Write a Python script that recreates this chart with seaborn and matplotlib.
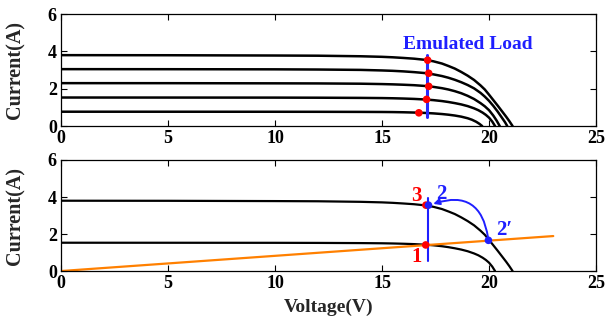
import matplotlib
matplotlib.use("Agg")
import matplotlib.pyplot as plt
import seaborn as sns
from matplotlib.patches import FancyArrowPatch

# I-V curves of the PV module at five irradiance levels (voltage in V, current in A)
v1 = [0, 5, 10, 12, 14, 15, 15.5, 16, 16.5, 17.0, 17.4, 17.8, 18.1, 18.4, 18.7, 19.0,
      19.3, 19.6, 19.8, 20.0, 20.2, 20.4, 20.6, 20.8, 20.95, 21.1]
i1 = [3.80, 3.795, 3.78, 3.77, 3.74, 3.71, 3.685, 3.65, 3.61, 3.55, 3.47, 3.35, 3.22, 3.08,
      2.90, 2.70, 2.47, 2.18, 1.96, 1.68, 1.39, 1.10, 0.80, 0.50, 0.26, 0.0]

v2 = [0, 5, 10, 12, 14, 15, 15.5, 16, 16.5, 17.0, 17.4, 17.8, 18.1, 18.4, 18.7, 19.0,
      19.3, 19.6, 19.8, 20.0, 20.2, 20.4, 20.6, 20.75, 20.85]
i2 = [3.05, 3.047, 3.04, 3.03, 3.01, 2.98, 2.96, 2.93, 2.89, 2.84, 2.77, 2.68, 2.59, 2.48,
      2.35, 2.20, 2.02, 1.78, 1.58, 1.35, 1.08, 0.78, 0.45, 0.20, 0.0]

v3 = [0, 5, 10, 12, 14, 15, 15.5, 16, 16.5, 17.0, 17.4, 17.8, 18.1, 18.4, 18.7, 19.0,
      19.3, 19.6, 19.8, 20.0, 20.2, 20.35, 20.5]
i3 = [2.30, 2.298, 2.29, 2.285, 2.27, 2.25, 2.235, 2.215, 2.19, 2.15, 2.10, 2.03, 1.96, 1.87,
      1.76, 1.62, 1.45, 1.23, 1.06, 0.85, 0.56, 0.30, 0.0]

v4 = [0, 5, 10, 12, 14, 15, 15.5, 16, 16.5, 17.0, 17.4, 17.8, 18.1, 18.4, 18.7, 19.0,
      19.3, 19.5, 19.7, 19.85, 20.0, 20.15, 20.28]
i4 = [1.53, 1.528, 1.525, 1.52, 1.51, 1.50, 1.49, 1.475, 1.455, 1.425, 1.39, 1.34, 1.29, 1.23,
      1.16, 1.07, 0.95, 0.85, 0.72, 0.60, 0.45, 0.24, 0.0]

v5 = [0, 5, 10, 12, 14, 15, 15.5, 16, 16.5, 17.0, 17.4, 17.8, 18.1, 18.4, 18.7, 19.0,
      19.2, 19.4, 19.55, 19.68]
i5 = [0.77, 0.769, 0.767, 0.765, 0.76, 0.755, 0.75, 0.74, 0.725, 0.705, 0.68, 0.645, 0.61,
      0.565, 0.505, 0.42, 0.34, 0.23, 0.12, 0.0]

# Operating points set by the emulated load
op_v = [17.13, 17.18, 17.18, 17.08, 16.72]
op_i = [3.53, 2.83, 2.13, 1.43, 0.71]
load_v = 17.09
load_i = [0.47, 3.82]

# Resistive load line and the transition points 1 -> 2' -> 2 (= 3)
res_v = [0, 23.0]
res_i = [0, 1.89]
p1 = (17.04, 1.41)
p3 = (17.05, 3.56)
p2 = (17.17, 3.56)
p2b = (19.97, 1.66)
vline_b = [0.54, 3.93]

sns.set_theme(style="ticks")
plt.rcParams["font.family"] = ["Liberation Serif", "DejaVu Serif"]
plt.rcParams["font.weight"] = "bold"

fig = plt.figure(figsize=(6.07, 3.20), dpi=100)
ax1 = fig.add_axes([0.1005, 0.606, 0.8815, 0.350])
ax2 = fig.add_axes([0.1005, 0.153, 0.8815, 0.347])

curves = [(v1, i1), (v2, i2), (v3, i3), (v4, i4), (v5, i5)]
for vv, ii in curves:
    sns.lineplot(x=vv, y=ii, ax=ax1, color="black", lw=1.8, sort=False, estimator=None)
ax1.plot([load_v, load_v], load_i, color="#2a2aff", lw=2.2, zorder=3)
sns.scatterplot(x=op_v, y=op_i, ax=ax1, color="#ff0000", s=30, edgecolor="none", zorder=4)
ax1.text(19.0, 4.38, "Emulated Load", color="#1f1fff", fontsize=14, fontweight="bold",
         ha="center", va="center")

for vv, ii in [(v1, i1), (v4, i4)]:
    sns.lineplot(x=vv, y=ii, ax=ax2, color="black", lw=1.6, sort=False, estimator=None)
sns.lineplot(x=res_v, y=res_i, ax=ax2, color="#ff8000", lw=1.6, sort=False, estimator=None)
ax2.plot([p2[0], p2[0]], vline_b, color="#1f1fff", lw=1.5, zorder=3)
sns.scatterplot(x=[p1[0], p3[0]], y=[p1[1], p3[1]], ax=ax2, color="#ff0000", s=30,
                edgecolor="none", zorder=4)
sns.scatterplot(x=[p2[0], p2b[0]], y=[p2[1], p2b[1]], ax=ax2, color="#1f1fff", s=30,
                edgecolor="none", zorder=5)
arrow = FancyArrowPatch(p2b, (p2[0] + 0.1, p2[1] + 0.02), connectionstyle="arc3,rad=0.62",
                        arrowstyle="-|>", mutation_scale=9, color="#1f1fff", lw=1.4, zorder=5)
ax2.add_patch(arrow)
ax2.text(16.85, 4.05, "3", color="#ff0000", fontsize=15, fontweight="bold", ha="right", va="center")
ax2.text(17.55, 4.15, "2", color="#1f1fff", fontsize=15, fontweight="bold", ha="left", va="center")
ax2.text(20.35, 2.2, "2\u2032", color="#1f1fff", fontsize=15, fontweight="bold", ha="left", va="center")
ax2.text(16.85, 0.75, "1", color="#ff0000", fontsize=15, fontweight="bold", ha="right", va="center")

for ax in (ax1, ax2):
    ax.set_xlim(0, 25)
    ax.set_ylim(0, 6)
    ax.set_xticks([0, 5, 10, 15, 20, 25])
    ax.set_yticks([0, 2, 4, 6])
    ax.tick_params(direction="in", length=4, width=0.8, top=True, right=True,
                   labelsize=13, pad=3, colors="black")
    for lab in ax.get_xticklabels() + ax.get_yticklabels():
        lab.set_fontweight("bold")
    for s in ax.spines.values():
        s.set_visible(True)
        s.set_linewidth(0.9)
        s.set_color("black")
    ax.set_ylabel("Current(A)", fontsize=14.5, fontweight="bold", labelpad=16)

ax2.set_xlabel("Voltage(V)", fontsize=14, fontweight="bold", labelpad=5)

fig.savefig("out.png", dpi=100, facecolor="white")
